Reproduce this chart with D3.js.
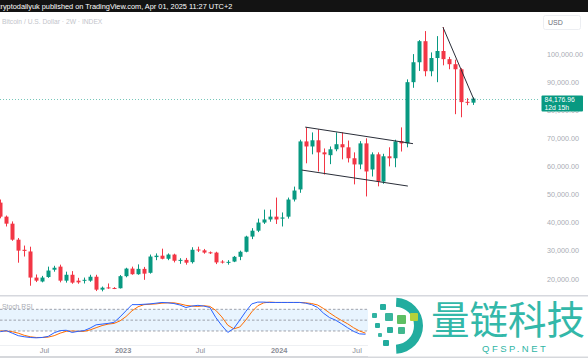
<!DOCTYPE html>
<html><head><meta charset="utf-8">
<script src="https://cdn.jsdelivr.net/npm/d3@7"></script>
<style>
html,body{margin:0;padding:0;background:#fff;overflow:hidden}
svg{display:block;font-family:"Liberation Sans",Arial,sans-serif}
</style></head><body>
<svg id="c" width="588" height="358"></svg>
<script>
// ---------------- DATA ----------------
const firstBar = "2022-03-21";           // 2W bars
const opens  = [47100,42100,39600,33900,30300,29700,20400,19000,20600,23200,24300,19300,21400,19300,19400,19300,20700,16100,16900,16700,
                16600,20900,23600,21600,23500,22100,27700,28200,27100,28600,26400,26700,25900,30400,30100,29400,29300,26100,25800,26100,
                27800,29600,35000,37100,40000,41100,42100,41400,42100,48200,51800,68900,67100,69300,65000,64000,66100,67900,66800,62900,
                60700,68200,58900,64300,54600,63600,62900,69000,68200,90000,97100,104600,93900,98600,101100,98200,96400,94600,83000,82700];
const highs  = [48200,42500,40400,34500,31800,31400,21500,21000,24300,24600,25000,22500,22700,20300,20400,21400,21400,17200,18300,17000,
                21300,23900,24300,25100,24200,28600,29000,30700,29000,28900,27300,27400,31200,31400,30600,29700,29600,26600,26600,28100,
                30000,35300,38000,41400,44600,44600,48900,43600,48900,52800,69500,73900,72100,73200,66400,67100,72100,72100,69200,65000,
                69000,70000,65000,65000,64500,66800,69500,73900,91000,100000,105000,108200,100600,106400,109600,99000,98000,95000,84300,84600];
const lows   = [41500,38600,33500,25700,27900,17500,18800,18700,20300,22500,18700,18600,18200,18200,18300,18900,15600,15500,16400,16300,
                16500,20500,21400,21400,19600,21800,26600,26900,26600,25800,25300,25000,25400,29500,28900,28800,25200,25400,25000,25900,
                26600,29400,34100,36600,39500,40300,39500,38600,41400,47500,50600,61100,64300,58200,57100,60800,65400,62500,61400,53600,
                59000,49300,56400,52900,53800,60000,59700,65300,66800,88000,94000,92100,92100,90000,96000,94600,78600,77500,81800,81900];
const closes = [42100,39600,33900,30000,29900,20400,19300,20400,22900,23900,19300,21400,18600,18700,19600,20700,16100,16800,16700,16600,
                20900,23600,21600,23500,21800,27900,28200,27100,28600,26400,26700,25700,30300,30100,29300,29200,25800,25900,26000,27800,
                29600,35000,37100,40000,41100,42100,41100,41800,48200,51400,68900,67100,69300,65000,64300,66100,67900,66800,62900,60700,
                68200,58200,64300,54600,63600,62900,68900,68200,90000,97100,104600,93900,98600,101100,98200,96400,94600,82900,82700,84176.96];
// Stoch RSI (visible part, bars 0..61)
const stochK = [18,21,14,7,4,2,1,2,5,15,21,22,16,19,21,28,37,39,41,44,59,76,93,93,94,95,97,99,98,96,92,85,89,91,89,85,57,35,16,27,
                50,74,95,100,100,99,99,99,99,99,99,97,93,85,69,57,50,40,29,19,12,11];
const stochD = [20,20,18,14,8,4,2,2,3,7,14,19,20,19,19,23,29,35,39,41,48,60,76,87,93,94,95,97,98,98,95,91,89,88,90,88,77,59,36,26,
                31,50,73,90,98,100,99,99,99,99,99,98,96,92,82,70,59,49,40,29,20,14];
const stochLevels = [80,50,20];
const priceTicks = [20000,30000,40000,50000,60000,70000,80000,90000,100000];
const timeTicks = ["2022-07-01","2023-01-01","2023-07-01","2024-01-01","2024-07-01"];
const timeTickLabels = ["Jul","2023","Jul","2024","Jul"];
const lastPrice = 84176.96;
const countdown = "12d 15h";
// drawn trend lines: [date, price] pairs
const channelUpper = [["2024-03-03",74000],["2024-11-10",68100]];
const channelLower = [["2024-02-24",58700],["2024-10-29",53000]];
const downTrend    = [["2025-01-19",109600],["2025-04-02",83600]];
const headerText = "cryptodailyuk published on TradingView.com, Apr 01, 2025 11:27 UTC+2";
const titleText = "Bitcoin / U.S. Dollar · 2W · INDEX";

// ---------------- SCALES ----------------
const parse = d3.utcParse("%Y-%m-%d");
const t0 = parse(firstBar);
const dates = opens.map((_, i) => d3.utcDay.offset(t0, i * 14));
const x = d3.scaleUtc().domain([dates[0], dates[dates.length - 1]]).range([0.3, 473.3]);
const y = d3.scaleLinear().domain([20000, 100000]).range([278.7, 54.1]);
const ys = d3.scaleLinear().domain([0, 100]).range([338.2, 302.1]);

const UP = "#089981", DN = "#F23645";
const svg = d3.select("#c");

// header
svg.append("rect").attr("x",0).attr("y",0).attr("width",588).attr("height",12).attr("fill","#131313");
svg.append("text").attr("x",-3.2).attr("y",8.8).attr("fill","#ffffff").attr("font-size",7.35).text(headerText);
svg.append("text").attr("x",2).attr("y",24).attr("fill","#c3c5cb").attr("font-size",6.7).text(titleText);

// USD box
svg.append("rect").attr("x",543.5).attr("y",15.5).attr("width",37).attr("height",14).attr("fill","#fff")
  .attr("stroke","#eceef2").attr("rx",2);
svg.append("text").attr("x",548).attr("y",24.5).attr("fill","#6a6d78").attr("font-size",7).text("USD");

// main pane clip
svg.append("clipPath").attr("id","mainclip").append("rect").attr("x",0).attr("y",12).attr("width",540).attr("height",283);
const main = svg.append("g").attr("clip-path","url(#mainclip)");

// last price dotted line
main.append("line").attr("x1",0).attr("x2",541).attr("y1",Math.round(y(lastPrice))+0.5).attr("y2",Math.round(y(lastPrice))+0.5)
  .attr("stroke",UP).attr("stroke-opacity",0.55).attr("stroke-dasharray","1,2");

// candles
const bars = d3.range(opens.length).map(i => ({d: dates[i], o: opens[i], h: highs[i], l: lows[i], c: closes[i]}));
const cg = main.append("g");
cg.selectAll("line.w").data(bars).join("line").attr("class","w")
  .attr("x1", d => Math.round(x(d.d)) + 0.5).attr("x2", d => Math.round(x(d.d)) + 0.5)
  .attr("y1", d => y(d.h)).attr("y2", d => y(d.l))
  .attr("stroke", d => d.c >= d.o ? UP : DN).attr("stroke-width",1);
cg.selectAll("rect.b").data(bars).join("rect").attr("class","b")
  .attr("x", d => Math.round(x(d.d)) - 1.5).attr("width", 4)
  .attr("y", d => Math.min(y(d.o), y(d.c)))
  .attr("height", d => Math.max(1, Math.abs(y(d.o) - y(d.c))))
  .attr("fill", d => d.c >= d.o ? UP : DN);

// trend lines
const line = d3.line().x(p => x(parse(p[0]))).y(p => y(p[1]));
[channelUpper, channelLower, downTrend].forEach(pts => {
  main.append("path").attr("d", line(pts)).attr("fill","none").attr("stroke","#2a2e39").attr("stroke-width",1);
});

// price axis
const yAxis = d3.axisRight(y).tickValues(priceTicks).tickFormat(d3.format(",.2f")).tickSize(0).tickPadding(0);
const ya = svg.append("g").attr("transform","translate(547,0)").call(yAxis);
ya.select(".domain").remove();
ya.selectAll("text").attr("fill","#a9acb4").attr("font-size",7.2).attr("font-family","Liberation Sans, Arial, sans-serif");

// last price label
svg.append("rect").attr("x",541.5).attr("y",95.5).attr("width",41.5).attr("height",16).attr("fill",UP).attr("rx",1);
svg.append("text").attr("x",544.5).attr("y",102).attr("fill","#fff").attr("font-size",6.8).text(d3.format(",.2f")(lastPrice));
svg.append("text").attr("x",544.5).attr("y",109.8).attr("fill","#fff").attr("font-size",6.8).text(countdown);

// separator
svg.append("line").attr("x1",0).attr("x2",588).attr("y1",295.8).attr("y2",295.8).attr("stroke","#d6d8de").attr("stroke-width",1.6);

// stoch pane
const sp = svg.append("g");
sp.append("rect").attr("x",0).attr("width",540).attr("y",ys(80)).attr("height",ys(20)-ys(80)).attr("fill","#2196f3").attr("fill-opacity",0.1);
sp.selectAll("line.lv").data(stochLevels).join("line").attr("class","lv")
  .attr("x1",0).attr("x2",540).attr("y1",d => ys(d)).attr("y2",d => ys(d))
  .attr("stroke","#9598a1").attr("stroke-width",0.9).attr("stroke-dasharray","2.5,2");
sp.append("text").attr("x",2).attr("y",308.5).attr("fill","#a9acb4").attr("font-size",6.8).text("Stoch RSI");
const sl = (arr) => d3.line().x((v,i) => x(dates[i])).y(v => ys(v))(arr);
sp.append("path").attr("d", sl(stochD)).attr("fill","none").attr("stroke","#FF6D00").attr("stroke-width",1);
sp.append("path").attr("d", sl(stochK)).attr("fill","none").attr("stroke","#2962FF").attr("stroke-width",1);

// bottom lines
svg.append("line").attr("x1",0).attr("x2",588).attr("y1",345.5).attr("y2",345.5).attr("stroke","#eef0f3");
svg.append("line").attr("x1",0).attr("x2",588).attr("y1",357).attr("y2",357).attr("stroke","#c9cbd1").attr("stroke-width",1.5);

// time axis
const xAxis = d3.axisBottom(x).tickValues(timeTicks.map(parse)).tickFormat((d,i) => timeTickLabels[i]).tickSize(0).tickPadding(0);
const xa = svg.append("g").attr("transform","translate(0,346)").call(xAxis);
xa.select(".domain").remove();
xa.selectAll("text").attr("fill","#8a8d96").attr("font-size",7.4).attr("dy","0.9em")
  .attr("font-weight",(d,i) => timeTickLabels[i].length === 4 ? "bold" : "normal")
  .attr("font-family","Liberation Sans, Arial, sans-serif");

// watermark
const wm = svg.append("g");
wm.append("rect").attr("x",368).attr("y",297).attr("width",220).attr("height",59.5).attr("fill","#fff");
const arc = d3.arc().innerRadius(19).outerRadius(28).startAngle(0.05).endAngle(Math.PI - 0.05);
wm.append("path").attr("d", arc()).attr("transform","translate(395,325.7)").attr("fill","#22ad9f");
const sq = [[380,304,6,"#25ae9f"],[372,313,5,"#30b3a2"],[385,313,8,"#38b59d"],[397,315,9,"#5ebf63"],[410,313,8,"#b4d23a"],
            [375,323,5,"#28af9f"],[387,327,6,"#2aae9c"],[398,327,7,"#41b78e"],[383,340,6,"#22ab9d"],[378,333,4,"#3ab7a6"]];
wm.selectAll("rect.sq").data(sq).join("rect").attr("class","sq")
  .attr("x",d=>d[0]).attr("y",d=>d[1]).attr("width",d=>d[2]).attr("height",d=>d[2]).attr("rx",1).attr("fill",d=>d[3]);
wm.append("text").attr("x",431).attr("y",334).attr("fill","#33b8a9").attr("font-size",38.5)
  .attr("font-family","Noto Sans CJK SC, sans-serif").text("量链科技");
wm.append("text").attr("x",482).attr("y",352).attr("fill","#2fb5a5").attr("font-size",9.5).attr("letter-spacing",2.5)
  .attr("font-family","Liberation Sans, Arial, sans-serif").text("QFSP.NET");
</script>
</body></html>
